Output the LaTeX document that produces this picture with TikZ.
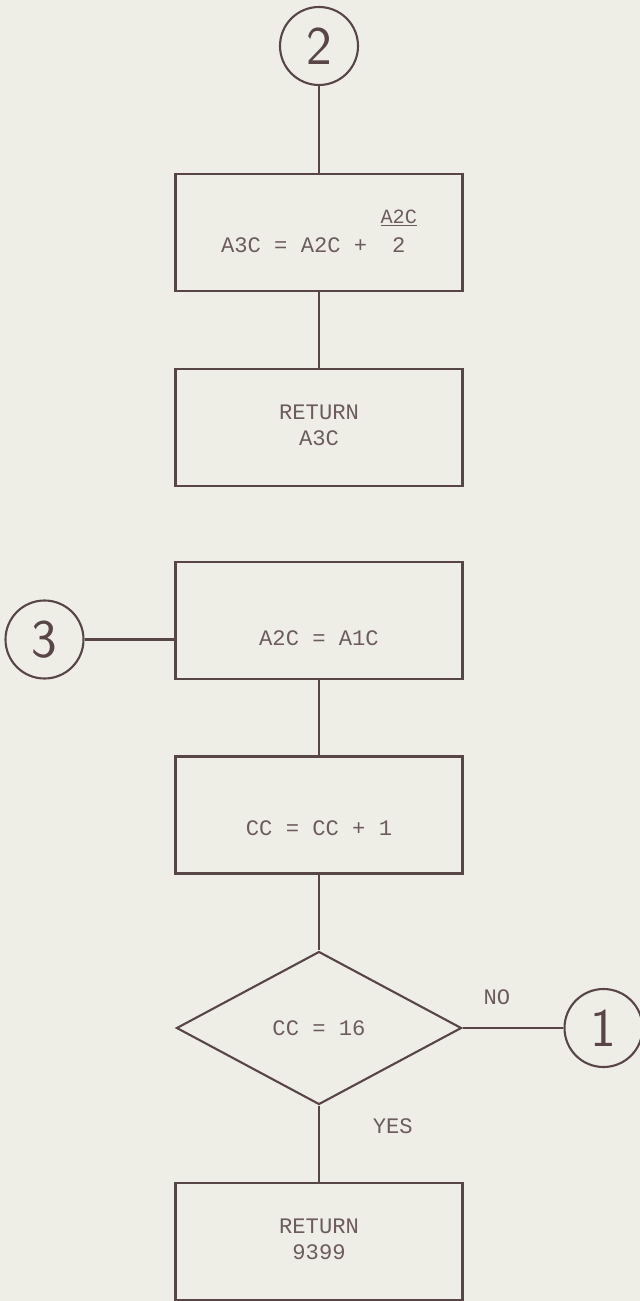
\documentclass[tikz,border=0pt]{standalone}
\usepackage{fontspec}
\setmonofont{Liberation Mono}
\usetikzlibrary{shapes.geometric}
\definecolor{paper}{RGB}{238,238,231}
\definecolor{ink}{RGB}{88,70,70}
\definecolor{pencil}{RGB}{108,92,92}
\begin{document}
\begin{tikzpicture}[node distance=3.9cm,line width=1.2pt,
    box/.style={draw=ink, rectangle, text=pencil, minimum width=5.74cm, minimum height=2.34cm,
      font=\ttfamily\fontsize{12.6}{14.5}\selectfont},
    conn/.style={draw=ink, circle, minimum size=1.56cm, inner sep=0pt, text=ink,
      font=\sffamily\fontsize{31}{31}\selectfont}]
    \clip (0,0) rectangle (12.8,-26.02);
    \fill[paper] (0,0) rectangle (12.8,-26.02);

    \node (two) [conn] at (6.38,-0.92) {2};
    \node (calc) [box, below of=two, node distance=3.73cm]
        {A3C = A2C + \begin{tabular}[b]{@{}c@{}}{\fontsize{11.5}{13}\selectfont\underline{A2C}}\\[2pt]2\end{tabular}};
    \node (ret) [box, below of=calc] {\begin{tabular}{@{}c@{}}RETURN\\A3C\end{tabular}};
    \node (copy) [box, below of=ret, node distance=3.86cm] {\raisebox{-0.49cm}[0pt][0pt]{A2C = A1C}};
    \node (inc) [box, below of=copy, node distance=3.89cm] {\raisebox{-0.40cm}[0pt][0pt]{CC = CC + 1}};
    \node (test) [draw=ink, diamond, text=pencil, inner sep=0pt, minimum width=5.7cm, minimum height=3.06cm,
        font=\ttfamily\fontsize{12.6}{14.5}\selectfont, below of=inc, node distance=4.26cm] {CC = 16};
    \node (ret2) [box, below of=test, node distance=4.27cm] {\begin{tabular}{@{}c@{}}RETURN\\9399\end{tabular}};
    \node (three) [conn, left of=copy, node distance=5.49cm, yshift=-0.38cm] {3};
    \node (one) [conn, right of=test, node distance=5.69cm] {1};

    \draw[ink] (two) -- (calc);
    \draw[ink] (calc) -- (ret);
    \draw[ink] (three) -- (three -| copy.west);
    \draw[ink] (copy) -- (inc);
    \draw[ink] (inc) -- (test);
    \draw[ink] (test) -- node[pos=0.34, above=0.33cm, text=pencil, font=\ttfamily\fontsize{12.6}{14.5}\selectfont] {NO} (one);
    \draw[ink] (test) -- node[pos=0.27, right=0.94cm, text=pencil, font=\ttfamily\fontsize{12.6}{14.5}\selectfont] {YES} (ret2);
\end{tikzpicture}
\end{document}
